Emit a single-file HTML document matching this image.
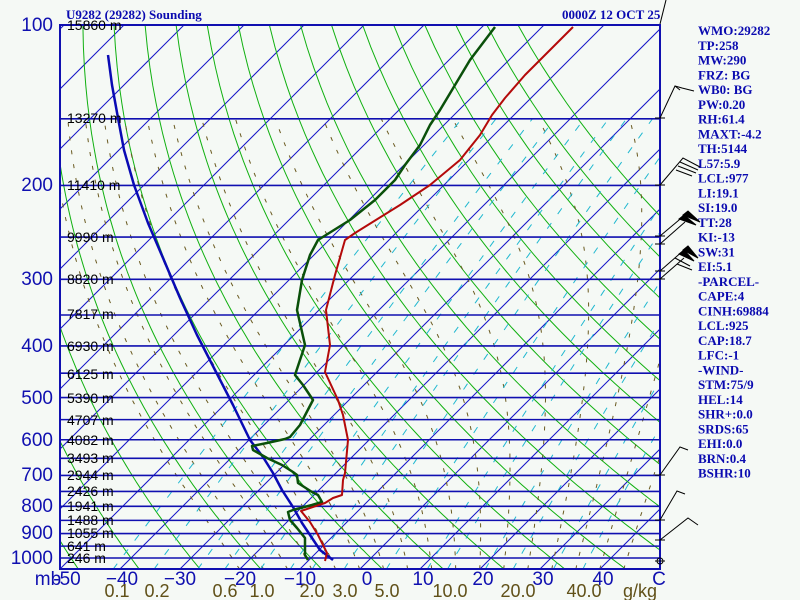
<!DOCTYPE html>
<html><head><meta charset="utf-8"><style>
html,body{margin:0;padding:0;background:#f5f9f5;}
svg{display:block}
.pl{font:19px "Liberation Sans",sans-serif;fill:#1010b0}
.hl{font:14px "Liberation Sans",sans-serif;fill:#000}
.tl{font:19px "Liberation Sans",sans-serif;fill:#1010b0}
.wl{font:18px "Liberation Sans",sans-serif;fill:#605018}
.rt{font:bold 13px "Liberation Serif",serif;fill:#0a0ab0}
</style></head><body>
<svg id="s" width="800" height="600" xmlns="http://www.w3.org/2000/svg">
<rect width="800" height="600" fill="#f5f9f5"/>
<defs><clipPath id="c"><rect x="60" y="25" width="600" height="544"/></clipPath></defs>
<g id="bg" clip-path="url(#c)"></g>
<g id="hl"></g>
<g id="snd" clip-path="url(#c)" fill="none" stroke-linejoin="round"></g>
<rect x="60" y="25" width="600" height="544" fill="none" stroke="#1010b0" stroke-width="2"/>
<g class="hl">
<text x="67" y="30">15860 m</text><text x="67" y="123">13270 m</text><text x="67" y="190">11410 m</text>
<text x="67" y="242">9990 m</text><text x="67" y="284">8820 m</text><text x="67" y="319">7817 m</text>
<text x="67" y="351">6930 m</text><text x="67" y="379">6125 m</text><text x="67" y="403">5390 m</text>
<text x="67" y="425">4707 m</text><text x="67" y="445">4082 m</text><text x="67" y="463">3493 m</text>
<text x="67" y="480">2944 m</text><text x="67" y="496">2426 m</text><text x="67" y="511">1941 m</text>
<text x="67" y="525">1488 m</text><text x="67" y="538">1055 m</text><text x="67" y="551">641 m</text>
<text x="67" y="563">246 m</text></g>
<g class="pl" text-anchor="end">
<text x="53" y="31">100</text><text x="53" y="191">200</text><text x="53" y="285">300</text>
<text x="53" y="352">400</text><text x="53" y="404">500</text><text x="53" y="446">600</text>
<text x="53" y="481">700</text><text x="53" y="512">800</text><text x="53" y="539">900</text>
<text x="53" y="564">1000</text></g>
<g class="tl" text-anchor="middle">
<text x="48" y="585">mb</text><text x="67" y="585">-50</text><text x="122" y="585">−40</text><text x="180" y="585">−30</text>
<text x="240" y="585">−20</text><text x="300" y="585">−10</text><text x="367" y="585">0</text>
<text x="423" y="585">10</text><text x="483" y="585">20</text><text x="543" y="585">30</text>
<text x="603" y="585">40</text><text x="659" y="585">C</text></g>
<g class="wl" text-anchor="middle">
<text x="117" y="597">0.1</text><text x="157" y="597">0.2</text><text x="225" y="597">0.6</text>
<text x="262" y="597">1.0</text><text x="312" y="597">2.0</text><text x="345" y="597">3.0</text>
<text x="387" y="597">5.0</text><text x="450" y="597">10.0</text><text x="518" y="597">20.0</text>
<text x="584" y="597">40.0</text><text x="640" y="597">g/kg</text></g>
<text class="rt" x="66" y="19">U9282 (29282) Sounding</text>
<text class="rt" x="562" y="19">0000Z 12 OCT 25</text>
<g class="rt" id="rtx"></g>
<g id="barbs" stroke="#000" stroke-width="1" fill="none"></g>
</svg>
<script>
var NS="http://www.w3.org/2000/svg";
function el(par,tag,a){var e=document.createElementNS(NS,tag);for(var k in a)e.setAttribute(k,a[k]);document.getElementById(par).appendChild(e);return e;}
function yP(p){return 25+Math.log10(p/100)*533;}
function xT(T,y){return 60+(T+50)*6+(569-y);}
function poly(par,pts,st,w,da){el(par,"polyline",{points:pts.map(function(q){return q[0].toFixed(1)+","+q[1].toFixed(1)}).join(" "),stroke:st,"stroke-width":w,fill:"none","stroke-dasharray":da||"none"});}
for(var T=-150;T<=50;T+=10){var y0=569,y1=25;poly("bg",[[xT(T,y0),y0],[xT(T,y1),y1]],"#1414c8",1);}
for(var th=223.15;th<=403.15;th+=10){var pts=[];for(var p=1050;p>=95;p-=10){var t=th*Math.pow(p/1000,0.2857)-273.15;var y=yP(p);pts.push([xT(t,y),y]);}poly("bg",pts,"#10b010",1);}
function es(tc){return 6.112*Math.exp(17.67*tc/(tc+243.5));}
for(var T0=-20;T0<=44;T0+=4){var pts=[];var TK=T0+273.15;for(var p=1050;p>=150;p-=5){var y=yP(p);pts.push([xT(TK-273.15,y),y]);var e=es(TK-273.15),rs=0.622*e/(p-e),Lv=2.5e6,Rd=287,cp=1004;var dT=(Rd*TK+Lv*rs)/(cp+Lv*Lv*rs*0.622/(Rd*TK*TK))/p;TK-=dT*5;}
poly("bg",pts,"#6a5a20",1,"4,10");}
[0.1,0.2,0.4,0.6,1,1.5,2,3,5,8,10,15,20,30,40].forEach(function(w){var pts=[];for(var p=1050;p>=150;p-=10){var e=w*p/(622+w);var a=Math.log(e/6.112);var tc=243.5*a/(17.67-a);var y=yP(p);pts.push([xT(tc,y),y]);}poly("bg",pts,"#20b8d0",1,"7,11");});
[100,150,200,250,300,350,400,450,500,550,600,650,700,750,800,850,900,950,1000].forEach(function(p){var y=yP(p);el("hl","line",{x1:60,x2:660,y1:y,y2:y,stroke:"#1010b0","stroke-width":1.6});});
poly("snd",[[108,55],[112,85],[118,118],[124,150],[134,185],[148,223],[163,258],[180,298],[197,335],[215,370],[233,405],[250,440],[263,457],[273,473],[282,490],[293,507],[302,523],[312,538],[320,550],[333,560]],"#0a0ab4",2.5);
poly("snd",[[308,560],[305,555],[305,538],[297,528],[290,520],[288,512],[293,510],[312,505],[322,502],[318,495],[312,492],[298,483],[297,475],[293,472],[282,465],[267,458],[253,450],[252,446],[267,443],[285,439],[290,437],[300,425],[313,400],[303,385],[295,375],[305,345],[297,310],[302,280],[310,255],[318,240],[350,220],[375,200],[395,180],[405,165],[420,145],[430,125],[440,110],[455,85],[470,60],[495,27]],"#0a500a",2.5);
poly("snd",[[325,561],[327,553],[318,535],[310,522],[301,511],[325,503],[333,498],[342,495],[343,480],[345,473],[348,440],[343,415],[338,400],[325,372],[330,345],[326,310],[335,275],[345,240],[355,233],[400,205],[430,185],[460,160],[480,135],[492,115],[505,98],[525,75],[550,50],[573,27]],"#b40a0a",2);
["WMO:29282","TP:258","MW:290","FRZ: BG","WB0: BG","PW:0.20","RH:61.4","MAXT:-4.2","TH:5144","L57:5.9","LCL:977","LI:19.1","SI:19.0","TT:28","KI:-13","SW:31","EI:5.1","-PARCEL-","CAPE:4","CINH:69884","LCL:925","CAP:18.7","LFC:-1","-WIND-","STM:75/9","HEL:14","SHR+:0.0","SRDS:65","EHI:0.0","BRN:0.4","BSHR:10"].forEach(function(s,i){var t=el("rtx","text",{x:698,y:35+i*14.75});t.textContent=s;});
function b(pts){poly("barbs",pts,"#000",1);}
b([[660,24],[666,0]]);
b([[660,118],[675,86],[682,88],[694,91]]);b([[675,86],[680,90]]);
b([[660,185],[683,158],[700,167]]);b([[680,162],[698,170]]);b([[678,166],[696,173]]);b([[676,170],[692,176]]);
b([[660,236],[685,215]]);el("barbs","polygon",{points:"683,215 688,211 700,222",fill:"#000"});el("barbs","polygon",{points:"679,219 684,215 696,225",fill:"#000"});
b([[660,244],[685,222]]);
b([[660,271],[684,250]]);el("barbs","polygon",{points:"683,250 688,246 698,258",fill:"#000"});el("barbs","polygon",{points:"679,254 684,250 694,261",fill:"#000"});b([[675,258],[690,266]]);
b([[660,279],[684,258]]);b([[677,264],[692,270]]);
b([[660,475],[680,447],[688,450]]);
b([[660,520],[677,491],[685,494]]);
b([[660,540],[688,518],[698,525]]);
el("barbs","circle",{cx:660,cy:561,r:3});b([[655,561],[665,561]]);
[118,185,236,244,271,279,475,520,540].forEach(function(y){b([[655,y],[665,y]]);});
</script>
</body></html>
